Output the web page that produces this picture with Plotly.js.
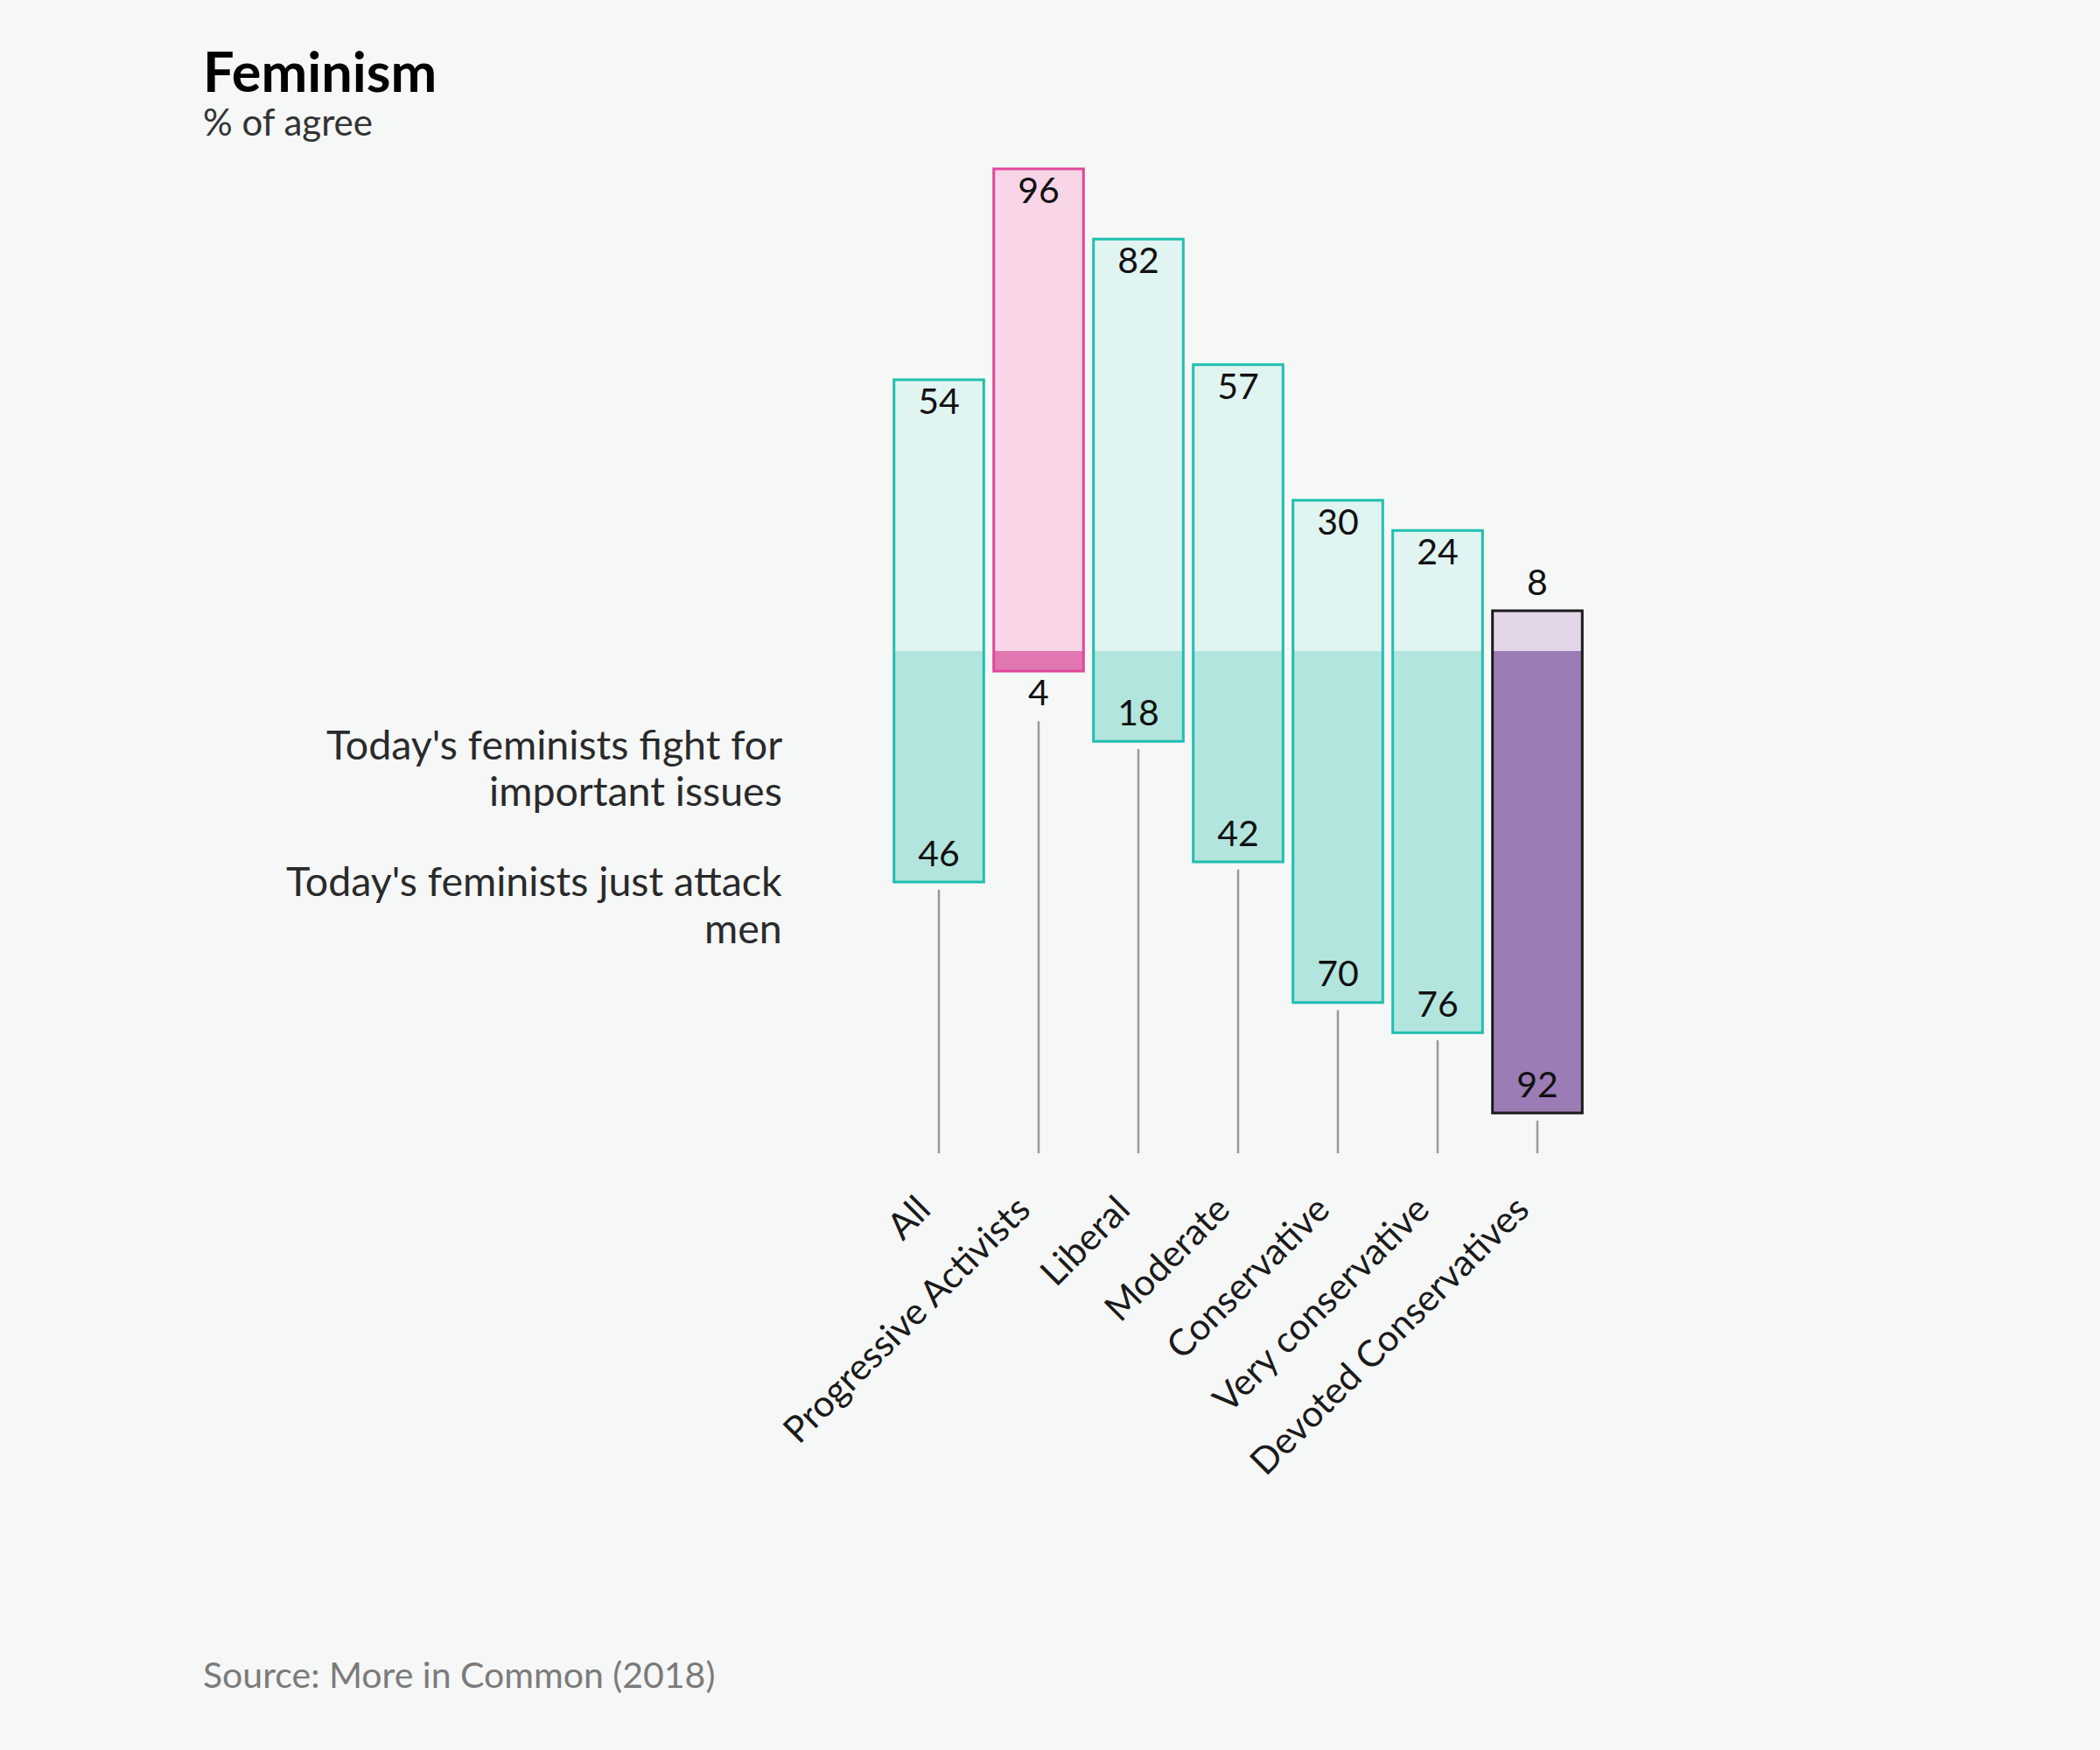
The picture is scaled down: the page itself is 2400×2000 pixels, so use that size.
<!DOCTYPE html>
<html>
<head>
<meta charset="utf-8">
<script src="https://cdn.plot.ly/plotly-3.0.1.min.js"></script>
<style>
  html, body { margin: 0; padding: 0; background: #f6f7f7; }
  #chart { width: 2400px; height: 2000px; }
</style>
</head>
<body>
<div id="chart"></div>
<script>
// ---- data ----
const categories = ["All", "Progressive Activists", "Liberal", "Moderate", "Conservative", "Very conservative", "Devoted Conservatives"];
const fightForIssues = [54, 96, 82, 57, 30, 24, 8];   // "Today's feminists fight for important issues"
const attackMen      = [46, 4, 18, 42, 70, 76, 92];   // "Today's feminists just attack men"
const groupType      = ["base", "pa", "base", "base", "base", "base", "dc"];
const seriesLabelLines = [
  ["Today's feminists fight for", "important issues"],
  ["Today's feminists just attack", "men"]
];

// ---- styles ----
const palette = {
  base: { light: "#e0f4f1", dark: "#b3e5df", line: "#1fbfae" },
  pa:   { light: "#f8d5e7", dark: "#e077b0", line: "#e0479a" },
  dc:   { light: "#e3d6e9", dark: "#9b7cb5", line: "#1a1a1a" }
};
const FONT = "Lato, 'Open Sans', sans-serif";
const labelOffset = 5;
const smallThreshold = 12;
const lineBottom = -100;

const lightColors = groupType.map(g => palette[g].light);
const darkColors  = groupType.map(g => palette[g].dark);
const lineColors  = groupType.map(g => palette[g].line);

const fightTrace = {
  type: "bar", x: categories, y: fightForIssues, base: 0,
  width: 0.9, marker: { color: lightColors, line: { width: 0 } },
  hoverinfo: "skip", showlegend: false
};
const attackTrace = {
  type: "bar", x: categories, y: attackMen.map(v => -v), base: 0,
  width: 0.9, marker: { color: darkColors, line: { width: 0 } },
  hoverinfo: "skip", showlegend: false
};
const outlineTrace = {
  type: "bar", x: categories,
  y: categories.map((c, i) => fightForIssues[i] + attackMen[i]),
  base: attackMen.map(v => -v),
  width: 0.9,
  marker: { color: "rgba(0,0,0,0)", line: { color: lineColors, width: 3 } },
  hoverinfo: "skip", showlegend: false
};

// drop lines
const lx = [], ly = [];
categories.forEach((c, i) => {
  const start = attackMen[i] < smallThreshold ? -attackMen[i] - 2 * labelOffset : -attackMen[i] - 1.5;
  lx.push(c, c, null); ly.push(start, lineBottom, null);
});
const dropLines = {
  type: "scatter", mode: "lines", x: lx, y: ly,
  line: { color: "#9a9a9a", width: 2.5 }, hoverinfo: "skip", showlegend: false
};

const topLabels = {
  type: "scatter", mode: "text", x: categories,
  y: fightForIssues.map(v => v < smallThreshold ? v + labelOffset : v - labelOffset),
  text: fightForIssues.map(String), textposition: "middle center",
  textfont: { family: FONT, size: 41, color: "#111" }, hoverinfo: "skip", showlegend: false
};
const bottomLabels = {
  type: "scatter", mode: "text", x: categories,
  y: attackMen.map(v => v < smallThreshold ? -v - labelOffset : -v + labelOffset),
  text: attackMen.map(String), textposition: "middle center",
  textfont: { family: FONT, size: 41, color: "#111" }, hoverinfo: "skip", showlegend: false
};

// series label lines (left side), one annotation per line
const seriesLineY = [[0.4077, 0.3615], [0.2718, 0.2247]];
const seriesAnnotations = [];
seriesLabelLines.forEach((lines, s) => {
  lines.forEach((txt, k) => {
    seriesAnnotations.push({
      xref: "paper", yref: "paper", x: -0.1504, y: seriesLineY[s][k],
      xanchor: "right", yanchor: "middle", align: "right",
      text: txt, showarrow: false,
      font: { family: FONT, size: 46.5, color: "#2a2a2a" }
    });
  });
});

const layout = {
  width: 2400, height: 2000,
  paper_bgcolor: "#f6f7f7", plot_bgcolor: "#f6f7f7",
  margin: { l: 1016, r: 586, t: 170, b: 682 },
  barmode: "overlay",
  bargap: 0.1,
  showlegend: false,
  xaxis: {
    type: "category", categoryarray: categories, range: [-0.5, 6.5],
    showgrid: false, zeroline: false, showline: false, ticks: "",
    tickangle: -45, ticklabelstandoff: 30, ticklabelshift: -22,
    tickfont: { family: FONT, size: 42, color: "#1a1a1a" }, fixedrange: true
  },
  yaxis: {
    range: [-100, 100], visible: false, showgrid: false, zeroline: false, fixedrange: true
  },
  annotations: [
    { xref: "paper", yref: "paper", x: -0.985, y: 1.0780, xanchor: "left", yanchor: "middle",
      text: "<b>Feminism</b>", showarrow: false, font: { family: FONT, size: 63, color: "#000" } },
    { xref: "paper", yref: "paper", x: -0.985, y: 1.0270, xanchor: "left", yanchor: "middle",
      text: "% of agree", showarrow: false, font: { family: FONT, size: 42, color: "#333" } },
    { xref: "paper", yref: "paper", x: -0.985, y: -0.5183, xanchor: "left", yanchor: "middle",
      text: "Source: More in Common (2018)", showarrow: false,
      font: { family: FONT, size: 41, color: "#7b7b7b" } }
  ].concat(seriesAnnotations)
};

Plotly.newPlot("chart", [fightTrace, attackTrace, outlineTrace, dropLines, topLabels, bottomLabels], layout, { staticPlot: true });
</script>
</body>
</html>
